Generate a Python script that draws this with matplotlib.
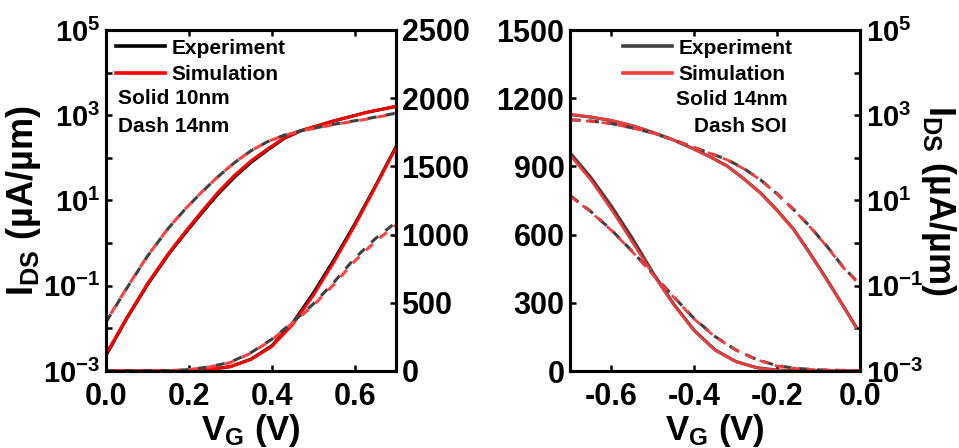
import matplotlib
matplotlib.use('Agg')
import matplotlib.pyplot as plt
from matplotlib.ticker import NullLocator

plt.rcParams['font.family'] = ['Liberation Sans', 'DejaVu Sans']
plt.rcParams['font.weight'] = 'bold'
plt.rcParams['axes.labelweight'] = 'bold'
plt.rcParams['mathtext.fontset'] = 'custom'
plt.rcParams['mathtext.rm'] = 'Liberation Sans:bold'
plt.rcParams['mathtext.bf'] = 'Liberation Sans:bold'
plt.rcParams['mathtext.it'] = 'Liberation Sans:bold'
plt.rcParams['mathtext.default'] = 'rm'
plt.rcParams['axes.linewidth'] = 2.2

# ---- left panel: nFET, 10 nm (solid) vs 14 nm (dash) ----
vg_n_log = [0.00, 0.05, 0.10, 0.15, 0.19, 0.23, 0.27, 0.31, 0.35, 0.39, 0.43, 0.47, 0.55, 0.63, 0.70]
sim_10nm_log = [2.5e-3, 1.78e-2, 0.112, 0.562, 1.78, 5.37, 15.5, 38.9, 85.1, 162, 295, 437, 741, 1175, 1622]
exp_10nm_log = [2.3e-3, 1.7e-2, 0.105, 0.53, 1.65, 4.9, 14.0, 35.0, 78, 152, 285, 430, 735, 1170, 1610]
sim_14nm_log = [1.45e-2, 8.9e-2, 0.50, 2.24, 6.17, 15.5, 36.3, 77.6, 148, 240, 339, 427, 603, 813, 1096]
exp_14nm_log = [1.4e-2, 8.7e-2, 0.49, 2.2, 6.1, 15.3, 36.0, 77.0, 147, 240, 341, 432, 615, 830, 1120]

vg_n_lin = [0.00, 0.15, 0.20, 0.25, 0.30, 0.35, 0.40, 0.45, 0.50, 0.55, 0.60, 0.65, 0.70]
sim_10nm_lin = [0, 1, 4, 12, 32, 85, 180, 340, 555, 800, 1065, 1350, 1640]
exp_10nm_lin = [0, 1, 4, 12, 32, 87, 185, 350, 570, 815, 1075, 1355, 1645]
sim_14nm_lin = [0, 3, 10, 30, 62, 132, 228, 350, 480, 635, 805, 950, 1070]
exp_14nm_lin = [0, 3, 10, 31, 64, 135, 232, 356, 490, 650, 825, 970, 1090]

# ---- right panel: pFET, 14 nm (solid) vs SOI (dash) ----
vg_p_log = [-0.70, -0.65, -0.60, -0.55, -0.50, -0.45, -0.40, -0.36, -0.32, -0.28, -0.24, -0.20, -0.16, -0.12, -0.08, -0.04, -0.01]
sim_14nm_p_log = [1047, 912, 759, 575, 398, 263, 158, 102, 63, 31.6, 14.8, 5.75, 2.04, 0.54, 0.135, 0.032, 0.0105]
exp_14nm_p_log = [1040, 905, 750, 570, 395, 262, 160, 104, 64, 32.0, 15.0, 5.9, 2.1, 0.56, 0.14, 0.033, 0.011]
sim_soi_log = [776, 724, 631, 501, 380, 263, 174, 126, 89, 55, 30.2, 14.1, 6.03, 2.34, 0.83, 0.263, 0.13]
exp_soi_log = [790, 735, 640, 505, 382, 265, 175, 127, 90, 56, 30.5, 14.3, 6.1, 2.4, 0.85, 0.27, 0.135]

vg_p_lin = [-0.70, -0.65, -0.60, -0.55, -0.50, -0.45, -0.40, -0.35, -0.30, -0.25, -0.20, -0.15, -0.10, -0.05, 0.00]
sim_14nm_p_lin = [950, 840, 710, 568, 426, 291, 176, 91, 41, 14, 3, 0, 0, 0, 0]
exp_14nm_p_lin = [960, 852, 725, 585, 432, 295, 178, 93, 42, 15, 4, 1, 0, 0, 0]
sim_soi_lin = [770, 700, 618, 525, 425, 325, 228, 150, 92, 50, 22, 10, 5, 3, 2]
exp_soi_lin = [772, 702, 620, 527, 427, 327, 230, 152, 93, 51, 23, 11, 5, 3, 2]

decades = [1e-3, 1e-2, 1e-1, 1e0, 1e1, 1e2, 1e3, 1e4, 1e5]
decade_labels = ['$10^{-3}$', '', '$10^{-1}$', '', '$10^{1}$', '', '$10^{3}$', '', '$10^{5}$']

black = '#000000'
red = '#ff0000'
gray = '#404040'
lred = '#ff4040'
pred = '#f03c3c'

fig = plt.figure(figsize=(9.59, 4.48), dpi=100)


def style(ax, size=21):
    ax.tick_params(which='major', direction='in', length=4.5, width=1.8,
                   labelsize=size, pad=4)
    ax.tick_params(axis='x', labelsize=22, pad=8)


# ---------------- left panel ----------------
ax1 = fig.add_axes([106 / 959, 77 / 448, 290 / 959, 341 / 448])
ax2 = ax1.twinx()

ax1.set_yscale('log')
ax1.set_ylim(1e-3, 1e5)
ax1.set_xlim(0, 0.7)
ax1.set_yticks(decades, decade_labels)
ax1.yaxis.set_minor_locator(NullLocator())
ax1.set_xticks([0.0, 0.2, 0.4, 0.6], ['0.0', '0.2', '0.4', '0.6'])
ax2.set_ylim(0, 2500)
ax2.set_yticks([0, 500, 1000, 1500, 2000, 2500])
style(ax1)
style(ax2, 22)
ax1.tick_params(axis='x', top=True)

lw = 2.2
ax1.plot(vg_n_log, exp_10nm_log, color=black, lw=lw)
ax1.plot(vg_n_log, sim_10nm_log, color=red, lw=lw)
ax1.plot(vg_n_log, exp_14nm_log, color=gray, lw=lw, ls=(0, (3, 3)))
ax1.plot(vg_n_log, sim_14nm_log, color=lred, lw=lw, ls=(3, (3, 3)))
ax2.plot(vg_n_lin, exp_10nm_lin, color=black, lw=lw)
ax2.plot(vg_n_lin, sim_10nm_lin, color=red, lw=lw)
ax2.plot(vg_n_lin, exp_14nm_lin, color=gray, lw=lw, ls=(0, (3, 3)))
ax2.plot(vg_n_lin, sim_14nm_lin, color=lred, lw=lw, ls=(3, (3, 3)))

h1, = ax2.plot([], [], color=black, lw=2.6, label='Experiment')
h2, = ax2.plot([], [], color=red, lw=2.6, label='Simulation')
ax2.legend(handles=[h1, h2], loc='upper left', bbox_to_anchor=(0.035, 0.975),
           frameon=False, fontsize=15, handlelength=2.35, handletextpad=0.3,
           labelspacing=0.35, borderpad=0, borderaxespad=0)
ax2.text(0.041, 0.798, 'Solid 10nm', transform=ax2.transAxes, fontsize=15,
         va='center', ha='left')
ax2.text(0.041, 0.716, 'Dash 14nm', transform=ax2.transAxes, fontsize=15,
         va='center', ha='left')

ax1.set_ylabel('I$_{DS}$ (µA/µm)', fontsize=26, labelpad=0)
ax1.set_xlabel('V$_{G}$ (V)', fontsize=25, labelpad=0)

# ---------------- right panel ----------------
ax3 = fig.add_axes([570 / 959, 77 / 448, 290 / 959, 341 / 448])
ax4 = ax3.twinx()

ax3.set_xlim(-0.7, 0)
ax3.set_ylim(0, 1500)
ax3.set_yticks([0, 300, 600, 900, 1200, 1500])
ax3.set_xticks([-0.6, -0.4, -0.2, 0.0], ['-0.6', '-0.4', '-0.2', '0.0'])
ax4.set_yscale('log')
ax4.set_ylim(1e-3, 1e5)
ax4.set_yticks(decades, decade_labels)
ax4.yaxis.set_minor_locator(NullLocator())
style(ax3, 22)
style(ax4)
ax3.tick_params(axis='x', top=True)

lw2 = 1.9
ax4.plot(vg_p_log, exp_14nm_p_log, color=gray, lw=lw2 + 0.4)
ax4.plot(vg_p_log, sim_14nm_p_log, color=pred, lw=lw2)
ax4.plot(vg_p_log, exp_soi_log, color=gray, lw=lw2 + 0.3, ls=(0, (3.5, 2.5)))
ax4.plot(vg_p_log, sim_soi_log, color=pred, lw=lw2, ls=(0, (3.5, 2.5)))
ax3.plot(vg_p_lin, exp_14nm_p_lin, color=gray, lw=lw2 + 0.4)
ax3.plot(vg_p_lin, sim_14nm_p_lin, color=pred, lw=lw2)
ax3.plot(vg_p_lin, exp_soi_lin, color=gray, lw=lw2 + 0.3, ls=(0, (3.5, 2.5)))
ax3.plot(vg_p_lin, sim_soi_lin, color=pred, lw=lw2, ls=(0, (3.5, 2.5)))

h3, = ax4.plot([], [], color=gray, lw=2.6, label='Experiment')
h4, = ax4.plot([], [], color=pred, lw=2.6, label='Simulation')
ax4.legend(handles=[h3, h4], loc='upper right', bbox_to_anchor=(0.766, 0.975),
           frameon=False, fontsize=15, handlelength=2.35, handletextpad=0.3,
           labelspacing=0.35, borderpad=0, borderaxespad=0, alignment='right')
ax4.text(0.752, 0.795, 'Solid 14nm', transform=ax4.transAxes, fontsize=15,
         va='center', ha='right')
ax4.text(0.748, 0.716, 'Dash SOI', transform=ax4.transAxes, fontsize=15,
         va='center', ha='right')

ax4.set_ylabel('I$_{DS}$ (µA/µm)', fontsize=26, rotation=270, labelpad=25)
ax3.set_xlabel('V$_{G}$ (V)', fontsize=25, labelpad=0)

fig.savefig('out.png', dpi=100)
